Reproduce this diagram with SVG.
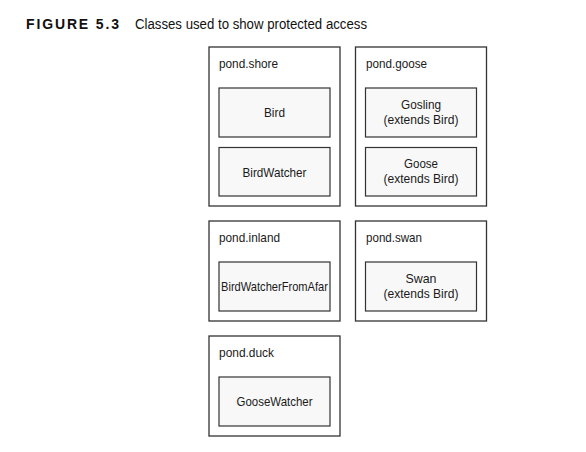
<svg xmlns="http://www.w3.org/2000/svg" width="586" height="452" viewBox="0 0 586 452">
<style>
.pkg{fill:#ffffff;stroke:#333333;stroke-width:1.3}
.cls{fill:#f8f8f8;stroke:#333333;stroke-width:1.2}
text{font-family:"Liberation Sans",Arial,sans-serif;fill:#1a1a1a}
.lbl{font-size:13px}
.name{font-size:13px;text-anchor:middle}
.fig{font-size:14px;font-weight:bold;fill:#111111}
.cap{font-size:14px;fill:#111111}
</style>
<rect width="586" height="452" fill="#ffffff"/>
<g id="title">
<text class="fig" x="26" y="29" textLength="93" lengthAdjust="spacing">FIGURE 5.3</text>
<text class="cap" x="135" y="29" textLength="232" lengthAdjust="spacingAndGlyphs">Classes used to show protected access</text>
</g>
<g id="pond-shore">
<rect class="pkg" x="209" y="47" width="131" height="159"/>
<text class="lbl" x="219" y="68" textLength="59" lengthAdjust="spacingAndGlyphs">pond.shore</text>
<g id="Bird">
<rect class="cls" x="219" y="88" width="111" height="49"/>
<text class="name" x="274.5" y="117" textLength="21" lengthAdjust="spacingAndGlyphs">Bird</text>
</g>
<g id="BirdWatcher">
<rect class="cls" x="219" y="147.5" width="111" height="48.5"/>
<text class="name" x="274.5" y="176.5" textLength="64" lengthAdjust="spacingAndGlyphs">BirdWatcher</text>
</g>
</g>
<g id="pond-goose">
<rect class="pkg" x="355.5" y="47" width="131" height="159"/>
<text class="lbl" x="366" y="68" textLength="61" lengthAdjust="spacingAndGlyphs">pond.goose</text>
<g id="Gosling">
<rect class="cls" x="365.5" y="88" width="111" height="49"/>
<text class="name" x="421" y="109" textLength="40" lengthAdjust="spacingAndGlyphs">Gosling</text>
<text class="name" x="421" y="123.5" textLength="75" lengthAdjust="spacingAndGlyphs">(extends Bird)</text>
</g>
<g id="Goose">
<rect class="cls" x="365.5" y="147.5" width="111" height="48.5"/>
<text class="name" x="421" y="168" textLength="34" lengthAdjust="spacingAndGlyphs">Goose</text>
<text class="name" x="421" y="182.5" textLength="75" lengthAdjust="spacingAndGlyphs">(extends Bird)</text>
</g>
</g>
<g id="pond-inland">
<rect class="pkg" x="209" y="221" width="131" height="100"/>
<text class="lbl" x="219" y="242" textLength="61" lengthAdjust="spacingAndGlyphs">pond.inland</text>
<g id="BirdWatcherFromAfar">
<rect class="cls" x="219" y="262" width="111" height="49"/>
<text class="name" x="274.5" y="291" textLength="107" lengthAdjust="spacingAndGlyphs">BirdWatcherFromAfar</text>
</g>
</g>
<g id="pond-swan">
<rect class="pkg" x="355.5" y="221" width="131" height="100"/>
<text class="lbl" x="366" y="242" textLength="56" lengthAdjust="spacingAndGlyphs">pond.swan</text>
<g id="Swan">
<rect class="cls" x="365.5" y="262" width="111" height="49"/>
<text class="name" x="421" y="283" textLength="31" lengthAdjust="spacingAndGlyphs">Swan</text>
<text class="name" x="421" y="297.5" textLength="75" lengthAdjust="spacingAndGlyphs">(extends Bird)</text>
</g>
</g>
<g id="pond-duck">
<rect class="pkg" x="209" y="336" width="131" height="100"/>
<text class="lbl" x="219" y="357" textLength="55" lengthAdjust="spacingAndGlyphs">pond.duck</text>
<g id="GooseWatcher">
<rect class="cls" x="219" y="377" width="111" height="49"/>
<text class="name" x="274.5" y="405.5" textLength="76" lengthAdjust="spacingAndGlyphs">GooseWatcher</text>
</g>
</g>
<g id="connectors"/>
</svg>
